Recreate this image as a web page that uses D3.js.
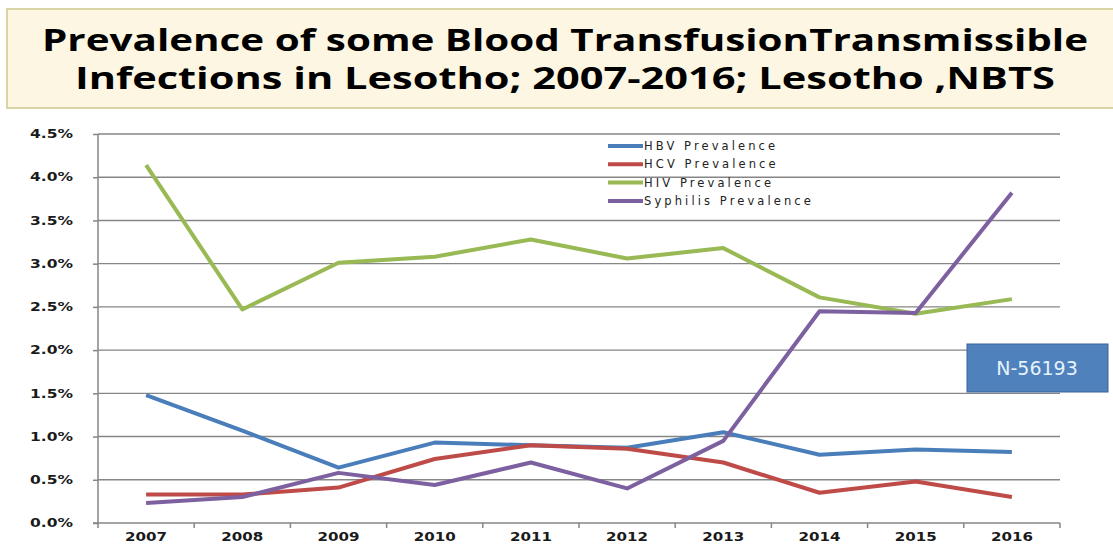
<html lang="en">
<head>
<meta charset="utf-8">
<style type="text/css">
    body { margin: 0; background: #fff; }
    .grid line { stroke: #868686; stroke-width: 1.4px; }
    .axis path, .axis line { stroke: #868686; stroke-width: 1.5px; }
    .axis text { font-family: "DejaVu Sans", Verdana, sans-serif; font-weight: bold; font-size: 11.5px; fill: #1a1a1a; }
    .series { fill: none; stroke-width: 4px; stroke-linejoin: round; }
</style>
</head>
<body>
<svg width="1113" height="546"></svg>
<script src="https://d3js.org/d3.v7.min.js"></script>
<script type="text/javascript">
    var years = ["2007","2008","2009","2010","2011","2012","2013","2014","2015","2016"];
    var hbv = [1.48, 1.07, 0.64, 0.93, 0.90, 0.87, 1.05, 0.79, 0.85, 0.82];
    var hcv = [0.33, 0.33, 0.41, 0.74, 0.90, 0.86, 0.70, 0.35, 0.48, 0.30];
    var hiv = [4.14, 2.47, 3.01, 3.08, 3.28, 3.06, 3.18, 2.61, 2.42, 2.59];
    var syphilis = [0.23, 0.30, 0.58, 0.44, 0.70, 0.40, 0.95, 2.45, 2.43, 3.82];
    var seriesNames = ["HBV Prevalence","HCV Prevalence","HIV Prevalence","Syphilis Prevalence"];
    var seriesColors = ["#4a7ebb","#be4b48","#98b954","#7d60a0"];
    var yTicks = [0, 0.5, 1.0, 1.5, 2.0, 2.5, 3.0, 3.5, 4.0, 4.5];

    var svg = d3.select("svg");

    // title box
    svg.append("rect")
        .attr("x", 7).attr("y", 9).attr("width", 1115).attr("height", 99)
        .attr("fill", "#fdf6e2").attr("stroke", "#d9d4a6").attr("stroke-width", 2);
    var title = svg.append("g")
        .style("font-family", "'Open Sans', 'DejaVu Sans', sans-serif")
        .style("font-weight", "bold").style("font-size", "30px").attr("fill", "#000");
    title.append("text").attr("x", 42).attr("y", 51)
        .attr("textLength", 1046).attr("lengthAdjust", "spacingAndGlyphs")
        .text("Prevalence of some Blood TransfusionTransmissible");
    title.append("text").attr("x", 75).attr("y", 89)
        .attr("textLength", 980).attr("lengthAdjust", "spacingAndGlyphs")
        .text("Infections in Lesotho; 2007-2016; Lesotho ,NBTS");

    var x = d3.scaleBand().domain(years).range([98, 1060]);
    var y = d3.scaleLinear().domain([0, 4.5]).range([523, 134]);

    // gridlines
    svg.append("g").attr("class", "grid")
        .selectAll("line").data(yTicks.slice(1)).enter().append("line")
        .attr("x1", 98).attr("x2", 1060)
        .attr("y1", function (d) { return y(d); })
        .attr("y2", function (d) { return y(d); });

    var yAxis = svg.append("g").attr("class", "axis")
        .attr("transform", "translate(98,0)")
        .call(d3.axisLeft(y).tickValues(yTicks).tickSize(5).tickPadding(20)
            .tickFormat(function (d) { return d.toFixed(1) + "%"; }));
    yAxis.select(".domain").attr("d", "M0," + y(0) + "V" + y(4.5));
    yAxis.selectAll(".tick text")
        .attr("textLength", 43).attr("lengthAdjust", "spacingAndGlyphs");

    // x axis with ticks at band boundaries
    var xAxis = svg.append("g").attr("class", "axis")
        .attr("transform", "translate(0," + y(0) + ")");
    xAxis.append("line").attr("x1", 93).attr("x2", 1060).attr("y1", 0).attr("y2", 0);
    xAxis.selectAll(".bt").data(years.concat(["end"])).enter().append("line")
        .attr("class", "bt")
        .attr("x1", function (d, i) { return 98 + i * x.step(); })
        .attr("x2", function (d, i) { return 98 + i * x.step(); })
        .attr("y1", 0).attr("y2", 5);
    xAxis.selectAll("text").data(years).enter().append("text")
        .attr("x", function (d) { return x(d) + x.bandwidth() / 2 - 21; })
        .attr("y", 18)
        .attr("textLength", 42).attr("lengthAdjust", "spacingAndGlyphs")
        .text(function (d) { return d; });

    var line = d3.line()
        .x(function (d, i) { return x(years[i]) + x.bandwidth() / 2; })
        .y(function (d) { return y(d); });

    var allSeries = [hbv, hcv, hiv, syphilis];
    svg.selectAll(".series").data(allSeries).enter().append("path")
        .attr("class", "series")
        .attr("d", line)
        .attr("stroke", function (d, i) { return seriesColors[i]; });

    // legend
    var legend = svg.append("g").attr("transform", "translate(608,146)");
    var item = legend.selectAll("g").data(seriesNames).enter().append("g")
        .attr("transform", function (d, i) { return "translate(0," + i * 18.3 + ")"; });
    item.append("line").attr("x1", 0).attr("x2", 35).attr("y1", 0).attr("y2", 0)
        .attr("stroke-width", 4)
        .attr("stroke", function (d, i) { return seriesColors[i]; });
    item.append("text").attr("x", 36).attr("y", 4)
        .style("font-family", "'DejaVu Sans', Verdana, sans-serif")
        .style("font-size", "11.5px").style("letter-spacing", "3.1px")
        .attr("fill", "#222").text(function (d) { return d; });

    // N box
    svg.append("rect").attr("x", 967).attr("y", 344).attr("width", 141).attr("height", 48)
        .attr("fill", "#4f81bd").attr("stroke", "#3a6497").attr("stroke-width", 1);
    svg.append("text").attr("x", 1037).attr("y", 375).attr("text-anchor", "middle")
        .style("font-family", "'DejaVu Sans', Verdana, sans-serif").style("font-size", "19px")
        .attr("fill", "#e8f2fb").text("N-56193");
</script>
</body>
</html>
